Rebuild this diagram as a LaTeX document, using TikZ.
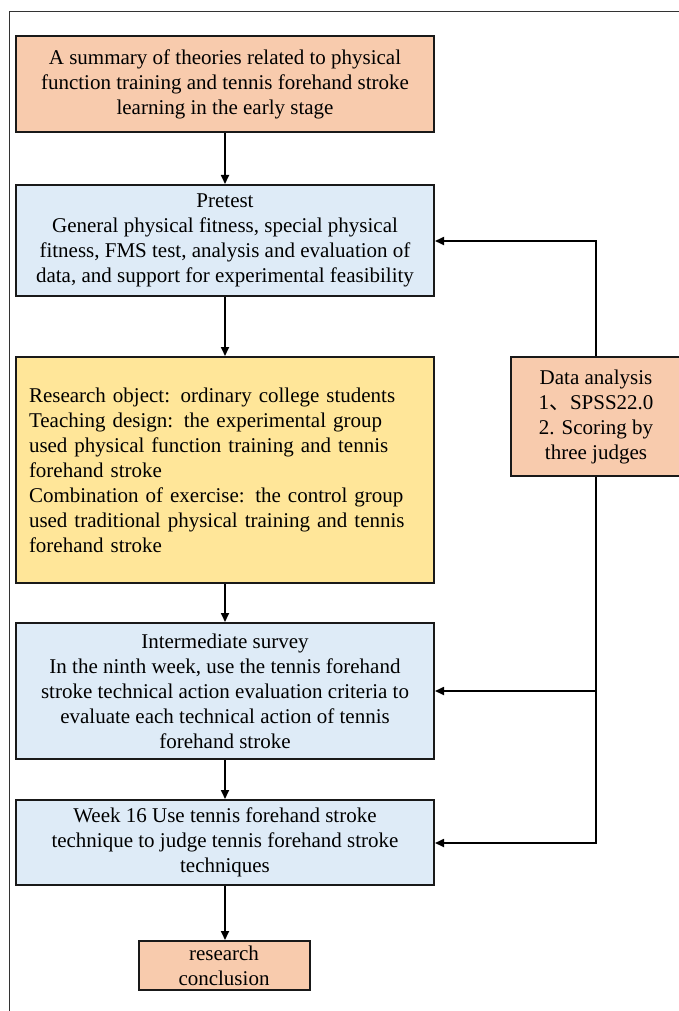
\documentclass[tikz,border=0pt]{standalone}
\usepackage{fontspec}
\setmainfont{Liberation Serif}
\newfontfamily\cjk{Noto Sans CJK SC}
\usetikzlibrary{arrows.meta}
\definecolor{boxorange}{HTML}{F8CBAD}
\definecolor{boxblue}{HTML}{DEEBF7}
\definecolor{boxyellow}{HTML}{FFE699}
\definecolor{framegray}{HTML}{333333}
\tikzset{
  base/.style={draw=black!90, line width=2pt, inner sep=2pt, align=center,
    font=\fontsize{21}{25}\selectfont, text=black},
  orangebox/.style={base, fill=boxorange},
  bluebox/.style={base, fill=boxblue},
  yellowbox/.style={base, fill=boxyellow, align=left, inner xsep=13pt},
  conn/.style={line width=1.7pt, draw=black, -{Triangle[length=9pt,width=8pt]}}
}
\begin{document}
\begin{tikzpicture}[x=1pt,y=-1pt]
\useasboundingbox (0,0) rectangle (679,1011);
\draw[framegray, line width=1pt] (9,1030) -- (9,12) -- (700,12);

\node[orangebox, minimum width=418pt, minimum height=96pt] (b1) at (225,84)
  {A summary of theories related to physical\\function training and tennis forehand stroke\\learning in the early stage};
\node[bluebox, minimum width=418pt, minimum height=111pt] (b2) at (225,240.5)
  {Pretest\\General physical fitness, special physical\\fitness, FMS test, analysis and evaluation of\\data, and support for experimental feasibility};
\node[yellowbox, minimum width=418pt, minimum height=226pt, text width=392pt] (b3) at (225,470)
  {Research object: ordinary college students\\Teaching design: the experimental group\\used physical function training and tennis\\forehand stroke\\Combination of exercise: the control group\\used traditional physical training and tennis\\forehand stroke};
\node[bluebox, minimum width=418pt, minimum height=136pt] (b4) at (225,691)
  {Intermediate survey\\In the ninth week, use the tennis forehand\\stroke technical action evaluation criteria to\\evaluate each technical action of tennis\\forehand stroke};
\node[bluebox, minimum width=418pt, minimum height=85pt] (b5) at (225,842.5)
  {Week 16 Use tennis forehand stroke\\technique to judge tennis forehand stroke\\techniques};
\node[orangebox, minimum width=171pt, minimum height=49pt, inner ysep=0pt] (b6) at (224,965.5)
  {research\\conclusion};
\node[orangebox, minimum width=170pt, minimum height=119pt] (da) at (596,416.5)
  {Data analysis\\1{\cjk 、}SPSS22.0\\2. Scoring by\\three judges};

\draw[conn] (b1.south -| 225,0) -- (b2.north -| 225,0);
\draw[conn] (b2.south -| 225,0) -- (b3.north -| 225,0);
\draw[conn] (b3.south -| 225,0) -- (b4.north -| 225,0);
\draw[conn] (b4.south -| 225,0) -- (b5.north -| 225,0);
\draw[conn] (b5.south -| 225,0) -- (b6.north -| 225,0);

\coordinate (t) at (596,241);
\coordinate (m) at (596,691);
\coordinate (e) at (596,843);
\draw[conn] (da.north) -- (t) -- (b2.east |- t);
\draw[conn] (da.south) -- (e) -- (b5.east |- e);
\draw[conn] (m) -- (b4.east |- m);
\end{tikzpicture}
\end{document}
